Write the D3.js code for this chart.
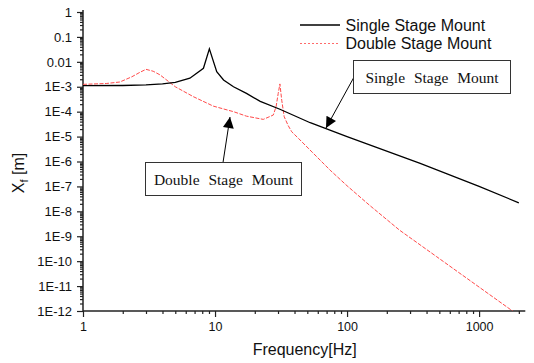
<!DOCTYPE html>
<html>
<head>
<meta charset="utf-8">
<script src="https://cdn.jsdelivr.net/npm/d3@7"></script>
<style>
  html, body { margin: 0; padding: 0; background: #fff; }
  svg { display: block; }
</style>
</head>
<body>
<svg id="chart" width="534" height="363"></svg>
<script>
// ---- data ----
const freqSingle = [1, 2, 3, 4, 5, 6.45, 8.17, 9.06, 10.3, 11.6, 13.8, 17.3, 22, 31, 52.6, 100, 358, 1000, 2000];
const valSingle  = [1.1e-3, 1.12e-3, 1.18e-3, 1.3e-3, 1.5e-3, 2.2e-3, 5.5e-3, 0.033, 4.0e-3, 1.86e-3, 1.0e-3, 5.4e-4, 2.6e-4, 1.25e-4, 3.6e-5, 1.0e-5, 8.4e-7, 1.0e-7, 2.2e-8];

const freqDouble = [1, 1.5, 1.9, 2.34, 2.7, 3.0, 3.4, 3.83, 5, 6.85, 9.7, 13.8, 17.3, 23.2, 27.6, 29.0, 30.1, 31.0, 32.0, 33.4, 35.8, 38.1, 42.8, 74.4, 100, 149, 250, 478, 1760, 2000];
const valDouble  = [1.25e-3, 1.35e-3, 1.55e-3, 2.5e-3, 3.8e-3, 5e-3, 4.2e-3, 3e-3, 1e-3, 4e-4, 1.67e-4, 1e-4, 6.6e-5, 4.9e-5, 7.3e-5, 1.58e-4, 5.4e-4, 1.3e-3, 2.9e-4, 6.3e-5, 2.77e-5, 1.56e-5, 8.5e-6, 4.5e-7, 1.06e-7, 1.7e-8, 1.75e-9, 1.5e-10, 1.07e-12, 6.5e-13];

const seriesNames = ["Single Stage Mount", "Double Stage Mount"];

const yTickValues = [1, 0.1, 0.01, 1e-3, 1e-4, 1e-5, 1e-6, 1e-7, 1e-8, 1e-9, 1e-10, 1e-11, 1e-12];
const yTickLabels = ["1", "0.1", "0.01", "1E-3", "1E-4", "1E-5", "1E-6", "1E-7", "1E-8", "1E-9", "1E-10", "1E-11", "1E-12"];
const xTickValues = [1, 10, 100, 1000];
const xTickLabels = ["1", "10", "100", "1000"];

const xTitle = "Frequency[Hz]";
const annotations = ["Single Stage Mount", "Double Stage Mount"];

// ---- layout ----
const svg = d3.select("#chart");
const pL = 83, pR = 524.3, pT = 12, pB = 311;

const x = d3.scaleLog().domain([1, 2200]).range([pL, pR]);
const y = d3.scaleLog().domain([1e-12, 1]).range([pB, pT]);

const minorX = [];
for (let d = 1; d <= 1000; d *= 10) for (let k = 2; k <= 9; k++) if (d * k <= 2200) minorX.push(d * k);
const minorY = [];
for (let e = -12; e < 0; e++) for (let k = 2; k <= 9; k++) minorY.push(k * Math.pow(10, e));

const defs = svg.append("defs");
defs.append("clipPath").attr("id", "clip")
  .append("rect").attr("x", pL).attr("y", pT - 2).attr("width", pR - pL + 2).attr("height", pB - pT + 2);

defs.append("marker").attr("id", "arrow")
  .attr("viewBox", "0 0 10 10").attr("refX", 10).attr("refY", 5)
  .attr("markerWidth", 13).attr("markerHeight", 11).attr("markerUnits", "userSpaceOnUse")
  .attr("orient", "auto")
  .append("path").attr("d", "M0,0 L10,5 L0,10 Z").attr("fill", "#000");

// axes
const axisColor = "#222";
function styleAxis(g) {
  g.select(".domain").remove();
  g.selectAll(".tick line").attr("stroke", axisColor).attr("stroke-width", 1.2);
}

const yMinor = svg.append("g").attr("transform", `translate(${pL},0)`)
  .call(d3.axisLeft(y).tickValues(minorY).tickSize(3).tickFormat(""));
styleAxis(yMinor);
const yMajor = svg.append("g").attr("transform", `translate(${pL},0)`)
  .call(d3.axisLeft(y).tickValues(yTickValues).tickSize(6).tickPadding(5)
    .tickFormat((d, i) => yTickLabels[i]));
styleAxis(yMajor);
yMajor.selectAll("text").attr("font-family", "Liberation Sans, Arial, sans-serif").attr("font-size", 13).attr("fill", "#111");

const xMinor = svg.append("g").attr("transform", `translate(0,${pB})`)
  .call(d3.axisBottom(x).tickValues(minorX).tickSize(3).tickFormat(""));
styleAxis(xMinor);
const xMajor = svg.append("g").attr("transform", `translate(0,${pB})`)
  .call(d3.axisBottom(x).tickValues(xTickValues).tickSize(6).tickPadding(5)
    .tickFormat((d, i) => xTickLabels[i]));
styleAxis(xMajor);
xMajor.selectAll("text").attr("font-family", "Liberation Sans, Arial, sans-serif").attr("font-size", 12.5).attr("fill", "#111");

// axis lines
svg.append("line").attr("x1", pL).attr("x2", pL).attr("y1", pT - 2).attr("y2", pB)
  .attr("stroke", axisColor).attr("stroke-width", 1.5);
svg.append("line").attr("x1", pL).attr("x2", pR + 1).attr("y1", pB).attr("y2", pB)
  .attr("stroke", axisColor).attr("stroke-width", 1.5);

// titles
svg.append("text").attr("x", (pL + pR) / 2 + 1).attr("y", 355)
  .attr("text-anchor", "middle").attr("font-family", "Liberation Sans, Arial, sans-serif")
  .attr("font-size", 16).attr("fill", "#111").text(xTitle);

const yt = svg.append("text").attr("transform", "translate(24,173) rotate(-90)")
  .attr("text-anchor", "middle").attr("font-family", "Liberation Sans, Arial, sans-serif")
  .attr("font-size", 16).attr("fill", "#111");
yt.append("tspan").text("X");
yt.append("tspan").attr("font-size", 11).attr("dy", 4).text("f");
yt.append("tspan").attr("dy", -4).text(" [m]");

// curves
const line = d3.line().x(d => x(d[0])).y(d => y(d[1]));
const plot = svg.append("g").attr("clip-path", "url(#clip)");
plot.append("path").datum(freqDouble.map((f, i) => [f, valDouble[i]]))
  .attr("d", line).attr("fill", "none").attr("stroke", "#ff4a4a")
  .attr("stroke-width", 1).attr("stroke-dasharray", "4,1.5");
plot.append("path").datum(freqSingle.map((f, i) => [f, valSingle[i]]))
  .attr("d", line).attr("fill", "none").attr("stroke", "#000")
  .attr("stroke-width", 1.3);

// legend
const lg = svg.append("g").attr("font-family", "Liberation Sans, Arial, sans-serif").attr("font-size", 16).attr("fill", "#111");
lg.append("line").attr("x1", 300).attr("x2", 340).attr("y1", 25).attr("y2", 25).attr("stroke", "#000").attr("stroke-width", 1.3);
lg.append("text").attr("x", 345.5).attr("y", 30.5).text(seriesNames[0]);
lg.append("line").attr("x1", 300).attr("x2", 340).attr("y1", 43.5).attr("y2", 43.5).attr("stroke", "#ff6a6a").attr("stroke-width", 1).attr("stroke-dasharray", "2,2");
lg.append("text").attr("x", 345.5).attr("y", 49).text(seriesNames[1]);

// annotation boxes
function annot(bx, by, bw, bh, label, ax1, ay1, ax2, ay2) {
  const g = svg.append("g");
  g.append("line").attr("x1", ax1).attr("y1", ay1).attr("x2", ax2).attr("y2", ay2)
    .attr("stroke", "#000").attr("stroke-width", 1).attr("marker-end", "url(#arrow)");
  g.append("rect").attr("x", bx).attr("y", by).attr("width", bw).attr("height", bh)
    .attr("fill", "#fff").attr("stroke", "#333").attr("stroke-width", 1);
  g.append("text").attr("x", bx + bw / 2).attr("y", by + bh / 2 + 5.5)
    .attr("text-anchor", "middle").attr("font-family", "Liberation Serif, Times New Roman, serif")
    .attr("font-size", 15.5).attr("word-spacing", 5).attr("fill", "#111").text(label);
}
annot(353.5, 60.5, 157, 33, annotations[0], 353.5, 78, 326, 128);
annot(145.5, 162.5, 156, 33, annotations[1], 223, 162.5, 230, 117);
</script>
</body>
</html>
